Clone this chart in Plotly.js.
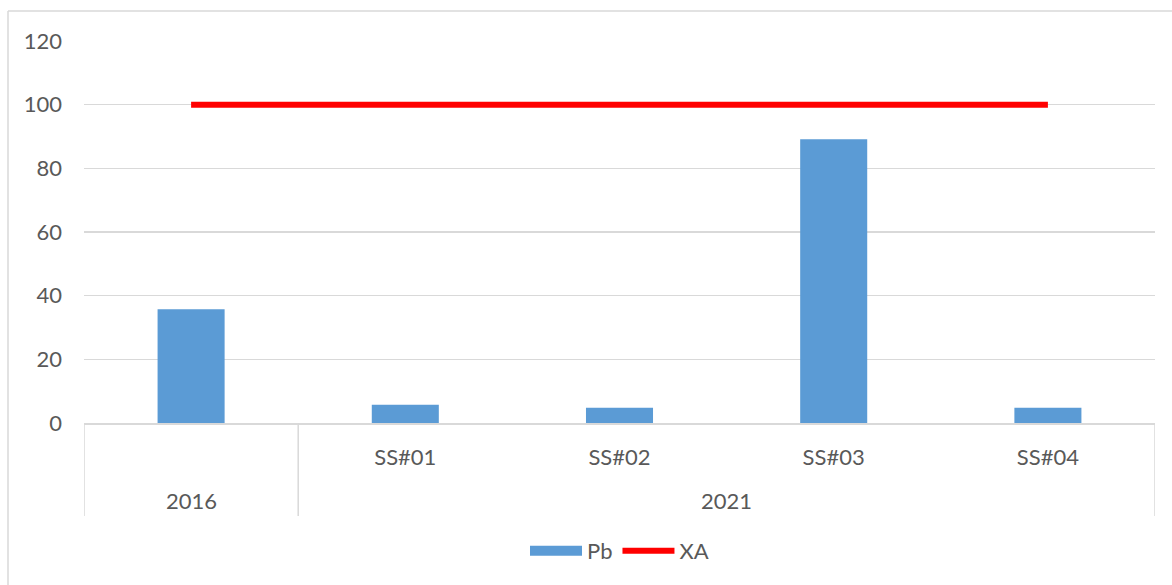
<!DOCTYPE html>
<html>
<head>
<meta charset="utf-8">
<script src="https://cdn.plot.ly/plotly-3.0.1.min.js"></script>
<style>
  html, body { margin: 0; padding: 0; background: #fff; }
  #chart { width: 1172px; height: 585px; }
</style>
</head>
<body>
<div id="chart"></div>
<script>
// Data
const groups  = ["2016", "2021", "2021", "2021", "2021"];
const samples = ["", "SS#01", "SS#02", "SS#03", "SS#04"];
const pb      = [35.7, 5.7, 4.8, 89.1, 4.8];
const xa      = [100, 100, 100, 100, 100];
const yTicks  = [0, 20, 40, 60, 80, 100, 120];

const cats = groups.map((g, i) => g + " " + (samples[i] || "·"));

const FONT = "Lato, 'Open Sans', sans-serif";
const FS = 22;
const TXT = "#595959";
const GRID = "#D9D9D9";
const BLUE = "#5B9BD5";

// plot area in pixels
const L = 84, R = 17, T = 41, B = 162;
const W = 1172 - L - R, H = 585 - T - B;
const py = p => (585 - B - p) / H;   // pixel y -> paper y
const px = p => (p - L) / W;         // pixel x -> paper x

// group spans
const spans = [];
groups.forEach((g, i) => {
  const last = spans[spans.length - 1];
  if (last && last.g === g) last.end = i; else spans.push({ g, start: i, end: i });
});

const shapes = [];
const annotations = [];
// dividers
const divX = [-0.5];
spans.forEach(s => divX.push(s.end + 0.5));
divX.forEach(x => shapes.push({
  type: "line", xref: "x", yref: "paper", x0: x, x1: x, y0: 0, y1: py(516),
  line: { color: GRID, width: 1.5 }
}));
// group labels
spans.forEach(s => annotations.push({
  xref: "x", yref: "paper", x: (s.start + s.end) / 2, y: py(500),
  text: s.g, showarrow: false, yanchor: "middle", xanchor: "center",
  font: { family: FONT, size: FS, color: TXT }
}));
// outer border (left + top)
shapes.push({ type: "line", xref: "paper", yref: "paper", x0: px(8), x1: px(8), y0: py(11), y1: py(600), line: { color: GRID, width: 1.5 } });
shapes.push({ type: "line", xref: "paper", yref: "paper", x0: px(8), x1: px(1180), y0: py(11), y1: py(11), line: { color: GRID, width: 1.5 } });

const traces = [
  {
    type: "bar", name: "Pb", x: cats, y: pb, showlegend: false,
    marker: { color: BLUE }, width: 0.313, hoverinfo: "none"
  },
  {
    // legend swatch for Pb (wide filled rectangle, as in the reference)
    type: "scatter", mode: "lines", name: "Pb", x: [cats[0]], y: [null],
    line: { color: BLUE, width: 14 }, hoverinfo: "none"
  },
  {
    type: "scatter", mode: "lines", name: "XA", x: cats, y: xa,
    line: { color: "#FF0000", width: 6 }, hoverinfo: "none"
  }
];

const layout = {
  width: 1172, height: 585,
  margin: { l: L, r: R, t: T, b: B },
  paper_bgcolor: "#fff", plot_bgcolor: "#fff",
  font: { family: FONT, size: FS, color: TXT },
  showlegend: true,
  legend: {
    orientation: "h", x: 0.5, xanchor: "center", y: py(551), yanchor: "middle",
    font: { family: FONT, size: FS, color: TXT }, itemwidth: 52, traceorder: "normal"
  },
  xaxis: {
    type: "category", categoryorder: "array", categoryarray: cats,
    tickmode: "array", tickvals: cats, ticktext: samples,
    range: [-0.5, cats.length - 0.5],
    showgrid: false, zeroline: false, showline: true, linecolor: GRID, linewidth: 1.5,
    ticks: "", ticklabelstandoff: 14,
    tickfont: { family: FONT, size: FS, color: TXT }
  },
  yaxis: {
    range: [0, 120], tickmode: "array", tickvals: yTicks,
    showgrid: true, gridcolor: GRID, gridwidth: 1.5,
    zeroline: false, showline: false, ticks: "", ticklabelstandoff: 21,
    tickfont: { family: FONT, size: FS, color: TXT }
  },
  shapes, annotations,
  bargap: 0.687
};

Plotly.newPlot("chart", traces, layout, { staticPlot: true, displayModeBar: false });
</script>
</body>
</html>
